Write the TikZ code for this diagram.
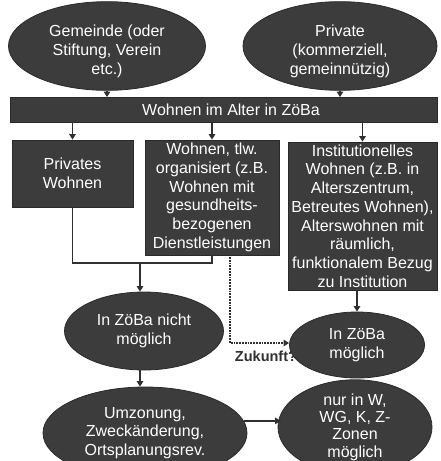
\documentclass[tikz,border=0pt]{standalone}
\usepackage{fontspec}
\setmainfont{Liberation Sans}
\usetikzlibrary{shapes.geometric,arrows.meta}
\definecolor{boxfill}{HTML}{3C3C3C}
\definecolor{boxline}{HTML}{2A2A2A}
\definecolor{linec}{HTML}{303030}
\begin{document}
\begin{tikzpicture}[x=1pt,y=-1pt,
  every node/.style={text=white, font=\fontsize{16}{18.7}\selectfont, align=center, inner sep=0pt},
  oval/.style={ellipse, fill=boxfill, draw=boxline, line width=0.8pt},
  rectbox/.style={rectangle, fill=boxfill, draw=boxline, line width=0.8pt},
  conn/.style={draw=linec, line width=1.7pt, -{Triangle[length=5.5pt,width=6.5pt]}},
  plainline/.style={draw=linec, line width=1.7pt},
  dotconn/.style={draw=linec, line width=1.8pt, densely dotted, -{Triangle[length=5.5pt,width=6.5pt]}}]
\useasboundingbox (0,0) rectangle (441,461);
\fill[white] (0,0) rectangle (441,461);
\clip (0,0) rectangle (441,461);

\node[oval, minimum width=197, minimum height=80] (gem) at (107,46) {\rule{0pt}{22pt}Gemeinde (oder\\Stiftung, Verein\\etc.)};
\node[oval, minimum width=194, minimum height=80] (priv) at (340,46) {\rule{0pt}{22pt}Private\\(kommerziell,\\gemeinnützig)};
\node[rectbox, minimum width=427, minimum height=25] (bar) at (223.5,110) {};
\node (barlabel) at (231,110) {Wohnen im Alter in ZöBa};

\node[rectbox, minimum width=121, minimum height=67] (b1) at (72.5,173.5) {Privates\\Wohnen};
\node[rectbox, minimum width=134, minimum height=115] (b2) at (212,197.5) {Wohnen, tlw.\\organisiert (z.B.\\Wohnen mit\\gesundheits-\\bezogenen\\Dienstleistungen};
\node[rectbox, minimum width=149, minimum height=148] (b3) at (362.5,216) {Institutionelles\\Wohnen (z.B. in\\Alterszentrum,\\Betreutes Wohnen),\\Alterswohnen mit\\räumlich,\\funktionalem Bezug\\zu Institution};

\node[oval, minimum width=159, minimum height=78] (nm) at (144,331) {In ZöBa nicht\\möglich};
\node[text=linec, font=\bfseries\fontsize{14.5}{16}\selectfont] (zuk) at (266,356) {Zukunft?};
\node[oval, minimum width=135, minimum height=66] (mg) at (357,345) {In ZöBa\\möglich};
\node[oval, minimum width=204, minimum height=92] (um) at (145,433) {Umzonung,\\Zweckänderung,\\Ortsplanungsrev.};
\node[oval, minimum width=154, minimum height=84, font=\fontsize{16}{17.3}\selectfont] (nur) at (355,427) {nur in W,\\WG, K, Z-\\Zonen\\möglich};

\draw[conn] (gem.south) -- (gem.south |- bar.north);
\draw[conn] (priv.south) -- (priv.south |- bar.north);
\draw[conn] (b1.north |- bar.south) -- (b1.north);
\draw[conn] (b2.north |- bar.south) -- (b2.north);
\draw[conn] (b3.north |- bar.south) -- (b3.north);

\coordinate (j) at (140,263);
\draw[plainline] (b1.south) |- (b2.south |- j) -- (b2.south);
\draw[conn] (j) -- (j |- nm.north);

\coordinate (d0) at (230,257);
\draw[dotconn] (d0) |- ([yshift=2pt]mg.west);

\draw[conn] (mg.north |- b3.south) -- (mg.north);
\draw[conn] (j |- nm.south) -- (j |- um.north);
\draw[conn] (um.7) -- ([xshift=3pt]nur.west |- um.7);
\end{tikzpicture}
\end{document}
